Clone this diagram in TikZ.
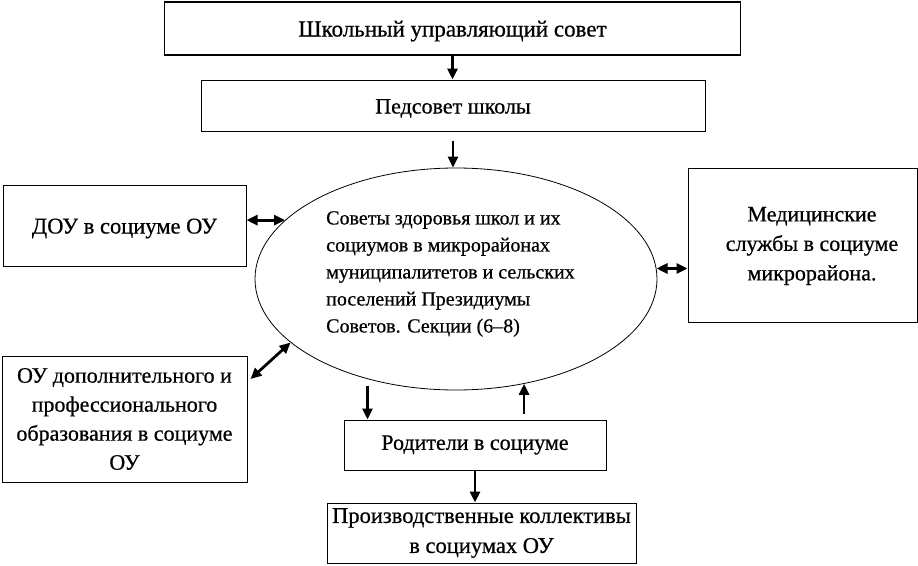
\documentclass[tikz,border=0pt]{standalone}
\usepackage{fontspec}
\setmainfont[FakeBold=0.6]{Liberation Serif}
\usetikzlibrary{shapes.geometric,arrows.meta}
\begin{document}
\begin{tikzpicture}[x=1pt,y=-1pt,
  box/.style={draw,line width=1pt,inner sep=0pt,align=center,font=\fontsize{22}{29}\selectfont},
  lowtext/.style={text height=21pt,text depth=5pt},
  arr/.style={line width=2.8pt,-{Triangle[length=11pt,width=10pt]}},
  darr/.style={line width=2.8pt,{Triangle[length=11pt,width=10pt]}-{Triangle[length=11pt,width=10pt]}}]
\useasboundingbox (0,0) rectangle (918,565);
\node[box,lowtext,line width=1.8pt,minimum width=576pt,minimum height=53pt,font=\fontsize{23}{29}\selectfont] (top) at (452.5,28.5) {Школьный управляющий совет};
\node[box,lowtext,minimum width=504pt,minimum height=51pt] (ped) at (453,105.5) {Педсовет школы};
\node[box,lowtext,minimum width=243pt,minimum height=81pt,font=\fontsize{22.5}{29}\selectfont] (dou) at (124.5,225.5) {ДОУ в социуме ОУ};
\node[box,minimum width=245pt,minimum height=126pt] (dop) at (124.5,419) {ОУ дополнительного и\\профессионального\\образования в социуме\\ОУ};
\node[box,minimum width=229pt,minimum height=154pt] (med) at (802.5,245) {};
\node[align=center,inner sep=0pt,font=\fontsize{22}{29.5}\selectfont] (medtext) at (812,246) {Медицинские\\службы в социуме\\микрорайона.};
\node[box,minimum width=262pt,minimum height=50pt] (rod) at (475,445) {Родители в социуме};
\node[box,minimum width=309pt,minimum height=60pt,font=\fontsize{22.5}{30}\selectfont] (prod) at (481.5,533) {Производственные коллективы\\в социумах ОУ};
\node[draw,ellipse,line width=0.8pt,minimum width=402pt,minimum height=222pt,inner sep=0pt] (ell) at (456,279) {};
\node[align=left,inner sep=0pt,anchor=west,font=\fontsize{20}{27}\selectfont] (elltext) at (326,274) {Советы здоровья школ и их\\социумов в микрорайонах\\муниципалитетов и сельских\\поселений Президиумы\\Советов. Секции (6–8)};
\draw[arr] (top.south) -- (top.south |- ped.north);
\draw[arr] ([yshift=-9pt]ped.south) -- (ped.south |- ell.north);
\draw[darr] (ell.161 -| dou.east) -- (ell.161);
\draw[darr] (ell.3) -- (ell.3 -| med.west);
\draw[darr] ([shift={(3pt,40pt)}]dop.east) -- (ell.201);
\coordinate (d1) at ([xshift=24pt,yshift=34pt]rod.north west);
\draw[arr] (d1) -- (d1 |- rod.north);
\coordinate (u1) at ([yshift=6pt]rod.north);
\draw[arr] (u1 -| ell.-57.5) -- (ell.-57.5);
\draw[arr] (rod.south) -- (rod.south |- prod.north);
\end{tikzpicture}
\end{document}
